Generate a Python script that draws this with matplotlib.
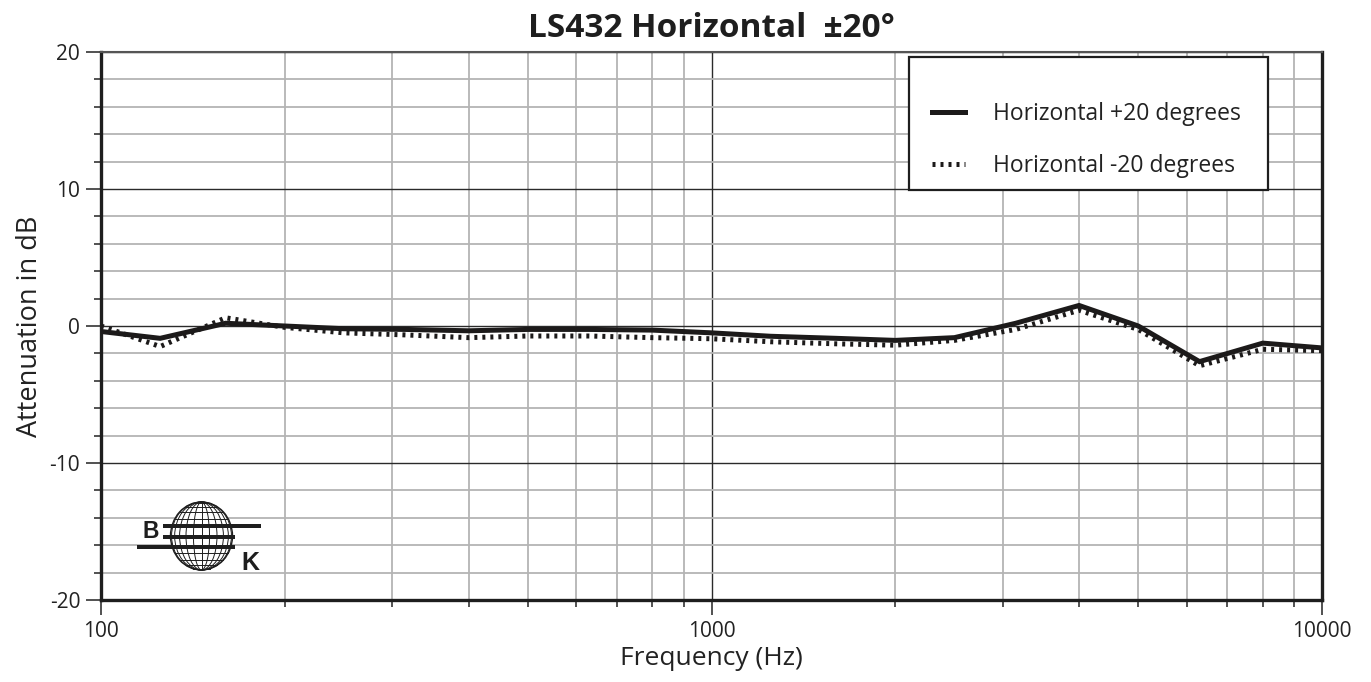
import numpy as np
import matplotlib
matplotlib.use("Agg")
import matplotlib.pyplot as plt
from matplotlib.patches import Ellipse, Rectangle
from matplotlib.ticker import FixedLocator, NullFormatter

plt.rcParams["font.family"] = ["Open Sans", "DejaVu Sans"]
plt.rcParams["axes.unicode_minus"] = False

# third-octave centre frequencies and measured attenuation
freq = [100, 125, 160, 200, 250, 315, 400, 500, 630, 800, 1000,
        1250, 1600, 2000, 2500, 3150, 4000, 5000, 6300, 8000, 10000]
h_plus20 = [-0.4, -0.9, 0.2, 0.0, -0.2, -0.25, -0.35, -0.25, -0.25, -0.3, -0.5,
            -0.75, -0.9, -1.05, -0.85, 0.2, 1.5, 0.0, -2.6, -1.25, -1.6]
h_minus20 = [0.0, -1.5, 0.6, -0.1, -0.5, -0.65, -0.85, -0.73, -0.73, -0.85, -0.93,
             -1.15, -1.3, -1.4, -1.05, -0.25, 1.15, -0.25, -2.9, -1.7, -1.8]
x_ticks = [100, 1000, 10000]
x_ticklabels = ["100", "1000", "10000"]
y_ticks = [-20, -10, 0, 10, 20]

W, H = 1371, 682
fig = plt.figure(figsize=(W / 100, H / 100), dpi=100)
ax = fig.add_axes([101 / W, 1 - 600 / H, 1221 / W, 548 / H])

ax.set_xscale("log")
ax.set_xlim(100, 10000)
ax.set_ylim(-20, 20)

# grid: light every 2 dB / every minor decade step, dark on majors
ax.xaxis.set_major_locator(FixedLocator(x_ticks))
ax.xaxis.set_minor_locator(FixedLocator([m * 10 ** d for d in (2, 3) for m in range(2, 10)]))
ax.xaxis.set_minor_formatter(NullFormatter())
ax.set_xticklabels(x_ticklabels)
ax.yaxis.set_major_locator(FixedLocator(y_ticks))
ax.yaxis.set_minor_locator(FixedLocator([v for v in range(-18, 20, 2) if v % 10]))

ax.grid(which="minor", color="#b4b4b4", lw=1.3, zorder=0)
ax.grid(which="major", color="#2a2a2a", lw=1.0, zorder=0)
ax.set_axisbelow(True)

ax.tick_params(which="major", length=11, width=1.2, color="#333333",
               labelsize=15, pad=4, labelcolor="#222222")
ax.tick_params(which="minor", length=5, width=1.2, color="#333333")

for side in ("left", "bottom", "right"):
    ax.spines[side].set_linewidth(2.4)
    ax.spines[side].set_color("#1e1e1e")
ax.spines["top"].set_linewidth(1.5)
ax.spines["top"].set_color("#555555")

ax.plot(freq, h_plus20, color="#1c1a1a", lw=3.6, solid_joinstyle="miter",
        label="Horizontal +20 degrees", zorder=3)
ax.plot(freq, h_minus20, color="#1c1a1a", lw=3.6, linestyle=(0, (0.6, 1.0)),
        dash_capstyle="butt", label="Horizontal -20 degrees", zorder=3)

# legend box drawn separately so the entries can sit low inside it
ax.add_patch(Rectangle((808 / 1221, 1 - 138 / 548), 359 / 1221, 133 / 548,
                       transform=ax.transAxes, fc="white", ec="#1e1e1e",
                       lw=1.6, zorder=4))
leg = ax.legend(loc="upper left", bbox_to_anchor=(831 / 1221, 1 - 50 / 548),
                fontsize=16.5, handlelength=1.44, handletextpad=1.22,
                labelspacing=1.22, borderpad=0, borderaxespad=0,
                frameon=False)
leg.set_zorder(5)
for t in leg.get_texts():
    t.set_color("#222222")

ax.set_title("LS432 Horizontal  \u00b120\u00b0", fontsize=24, fontweight="bold",
             color="#1e1e1e", pad=11)
ax.set_xlabel("Frequency (Hz)", fontsize=19, color="#222222", labelpad=3)
ax.set_ylabel("Attenuation in dB", fontsize=19.5, color="#222222", labelpad=4)

# company logo drawn in its own pixel-unit axes
lg = fig.add_axes([130 / W, 1 - 580 / H, 140 / W, 85 / H])
lg.set_xlim(130, 270)
lg.set_ylim(580, 495)
lg.axis("off")
cx, cy, rx, ry = 201.5, 536, 31, 34
lg.add_patch(Ellipse((cx, cy), 2 * rx, 2 * ry, fc="white", ec="#1e1e1e", lw=1.0))
for k in range(1, 6):
    w = 2 * rx * np.cos(np.radians(k * 15))
    lg.add_patch(Ellipse((cx, cy), w, 2 * ry, fc="none", ec="#1e1e1e", lw=0.7))
lg.plot([cx, cx], [cy - ry, cy + ry], color="#1e1e1e", lw=0.7)
for k in range(-5, 6):
    yy = cy + ry * np.sin(np.radians(k * 15))
    half = rx * np.cos(np.radians(k * 15))
    lg.plot([cx - half, cx + half], [yy, yy], color="#1e1e1e", lw=0.7)
for x0, x1, yb in [(163, 261, 526), (163, 235, 537), (137, 235, 547)]:
    lg.add_patch(Rectangle((x0, yb - 2.3), x1 - x0, 4.6, fc="#1e1e1e", ec="none"))
lg.text(151, 531.5, "B", fontsize=16.5, fontweight="bold", family="Liberation Sans",
        ha="center", va="center", color="#1e1e1e")
lg.text(250, 563, "K", fontsize=18, fontweight="bold", family="Liberation Sans",
        ha="center", va="center", color="#1e1e1e")

fig.savefig("out.png", dpi=100, facecolor="white")
